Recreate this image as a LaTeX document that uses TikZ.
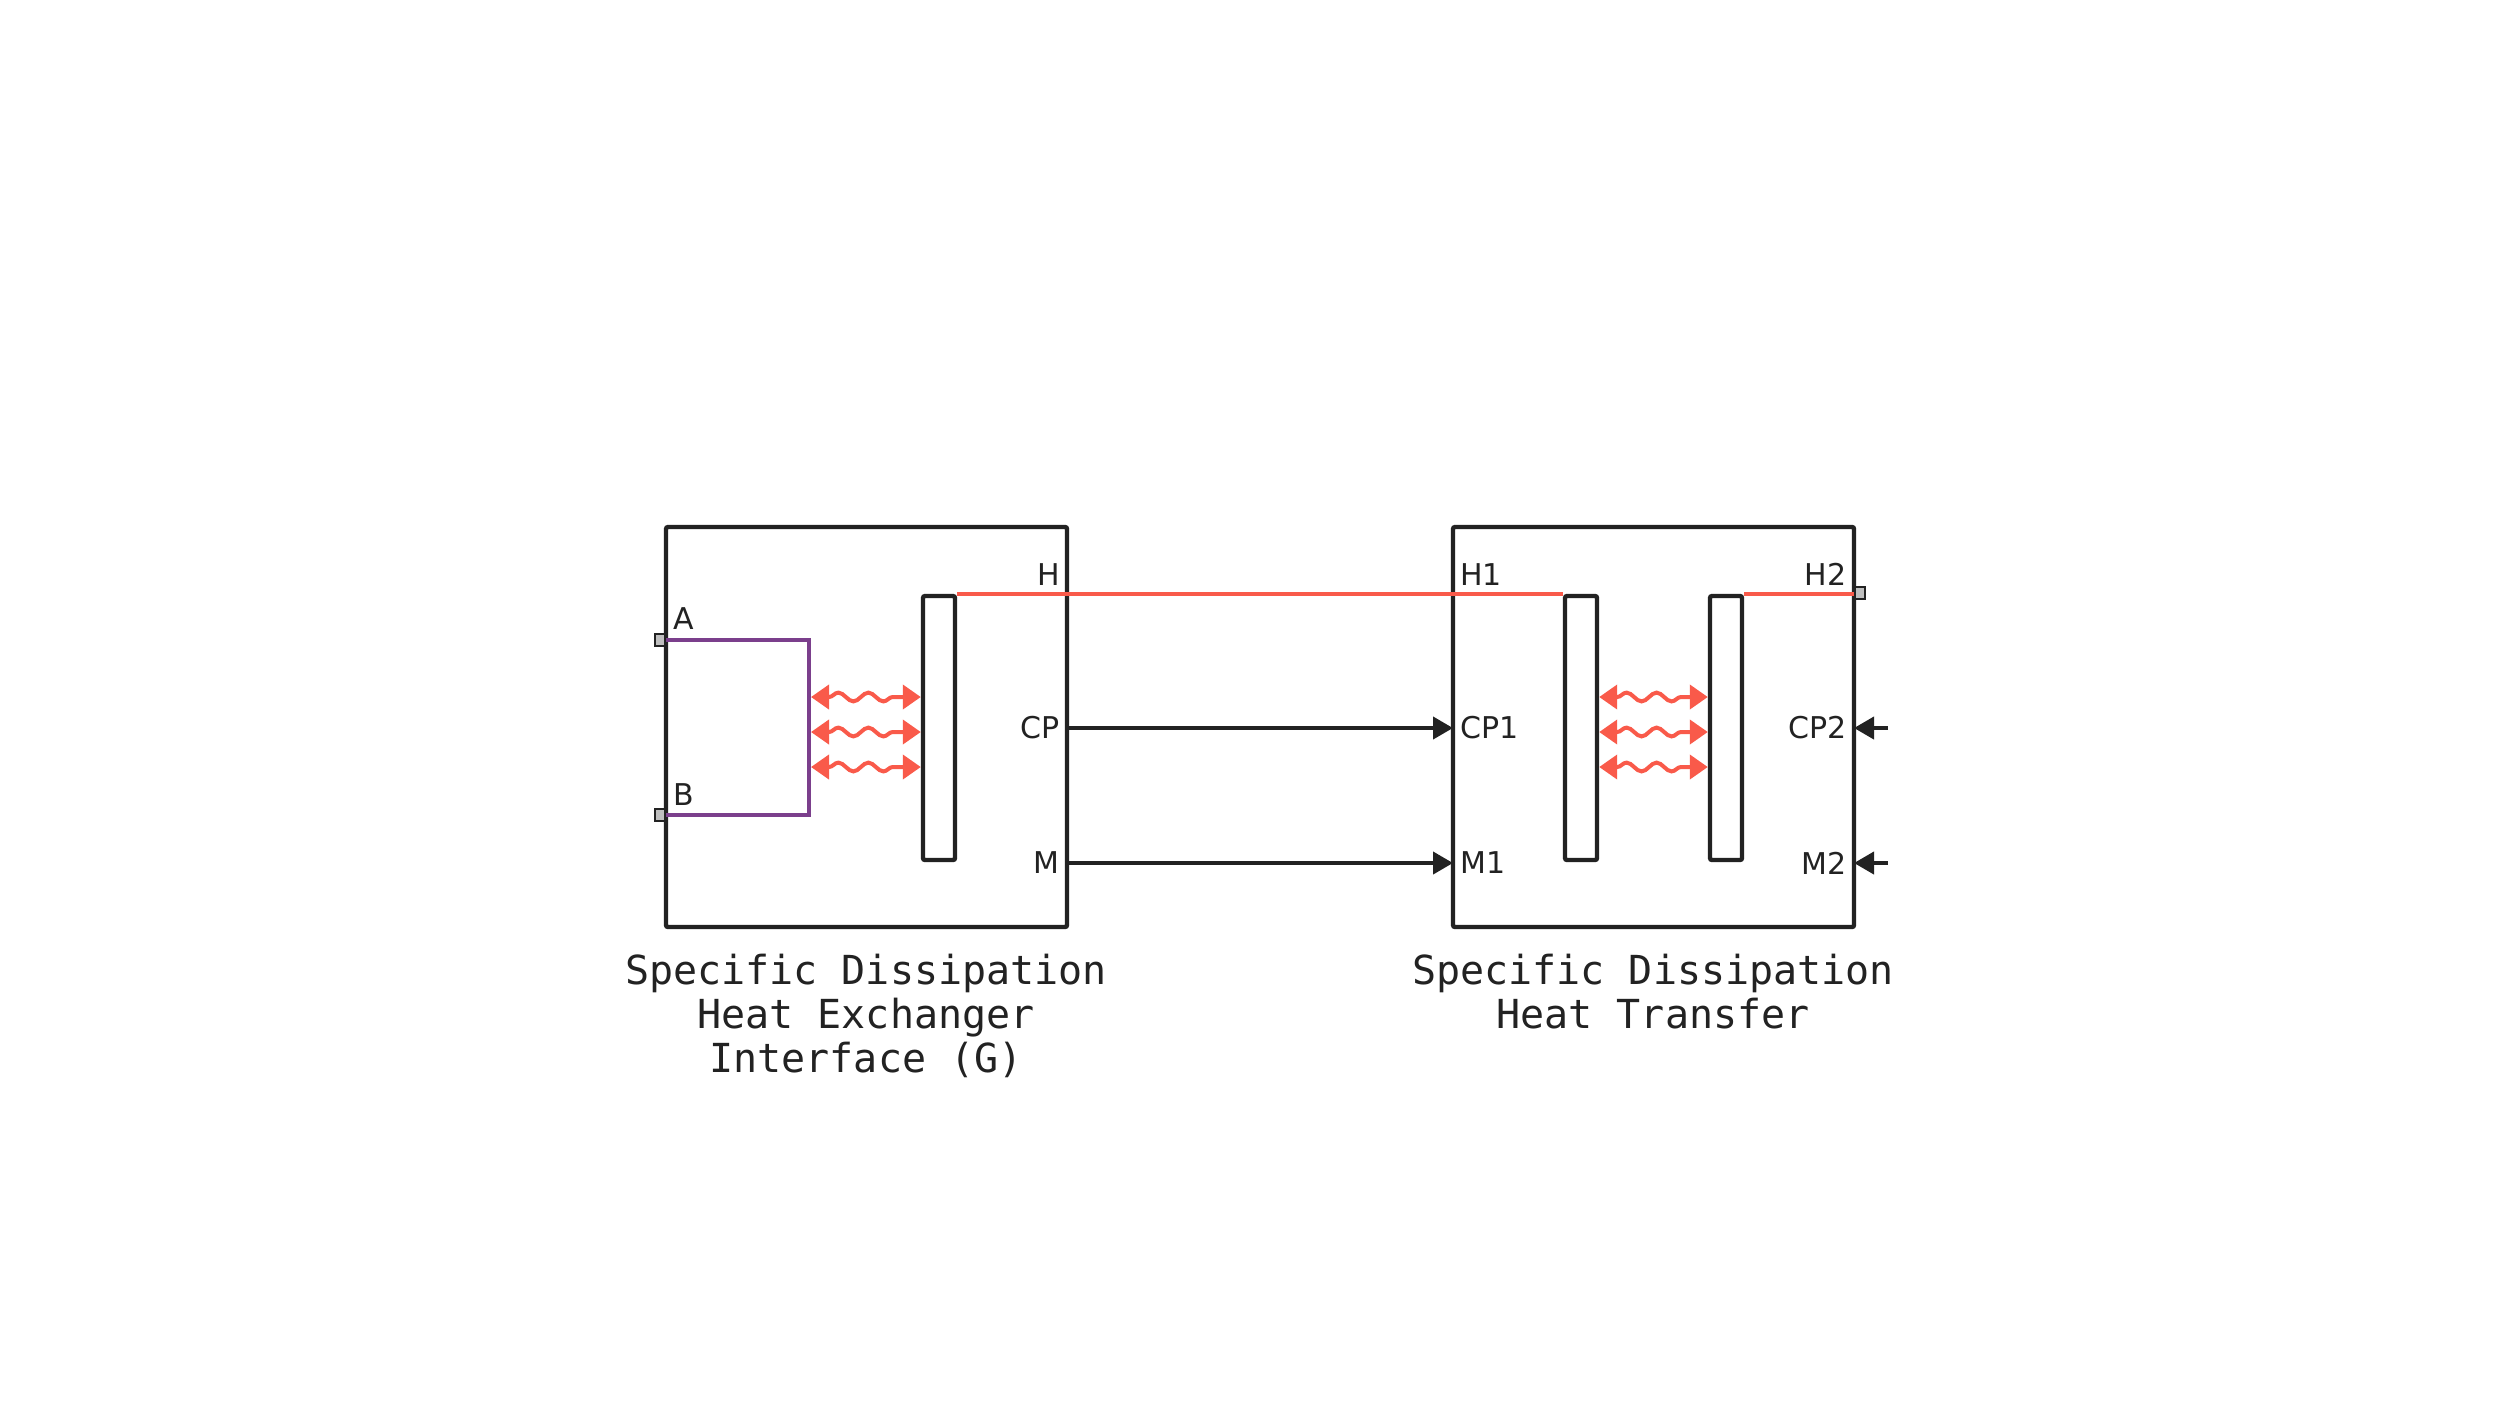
\documentclass[tikz,border=0pt]{standalone}
\usepackage{fontspec}
\setmainfont{DejaVu Sans}
\setmonofont{DejaVu Sans Mono}
\usetikzlibrary{arrows.meta,positioning,decorations.pathmorphing}
\definecolor{heat}{HTML}{F95A4A}
\definecolor{elec}{HTML}{7B3F8C}
\definecolor{ink}{HTML}{222222}
\tikzset{
  block/.style={draw=ink,line width=2.2pt,rounded corners=1pt},
  plate/.style={draw=ink,line width=2.2pt,rounded corners=1pt},
  port/.style={draw=ink,fill=gray!50,line width=1pt,minimum width=5pt,minimum height=6pt,inner sep=0},
  lbl/.style={font=\fontsize{15}{15}\selectfont,text=ink,inner sep=1pt},
  caption/.style={font=\ttfamily\fontsize{20}{22}\selectfont,text=ink,align=center},
  hwire/.style={heat,line width=2pt},
  sig/.style={ink,line width=2pt,-{Triangle[length=10pt,width=11pt]}},
  wave/.style={heat,line width=2pt,{Triangle[length=9pt,width=12pt]}-{Triangle[length=9pt,width=12pt]},
    decorate,decoration={snake,amplitude=2.2pt,segment length=15pt,pre length=9pt,post length=9pt}}
}
\begin{document}
\begin{tikzpicture}[x=0.5pt,y=-0.5pt]
    \useasboundingbox (0,0) rectangle (2520,1426);
    % left block
    \draw[block] (666,527) rectangle (1067,927);
    \node(p)[plate,minimum width=16pt,minimum height=132pt,inner sep=0] at (939,728) {};
    \node(pa)[port] at (660,640) {};
    \node(pb)[port] at (660,815) {};
    \coordinate(h) at (1067,594);
    \coordinate(cp) at (1067,728);
    \coordinate(m) at (1067,863);
    \draw[elec,line width=2pt] (pa.east) -- (809,640) -- (809,815) -- (pb.east);
    \draw[hwire] (p.north east) -- ++(112,0);
    \foreach \y in {697,732,767}
        \draw[wave] (811,\y) -- (p.west |- 0,\y);
    \node[lbl,anchor=south east] at (1062,588) {H};
    \node[lbl,anchor=south west] at (671,632) {A};
    \node[lbl,anchor=south west] at (671,808) {B};
    \node[lbl,anchor=east] at (1062,728) {CP};
    \node[lbl,anchor=east] at (1062,863) {M};
    \node[caption,anchor=north] at (866,947) {Specific Dissipation\\Heat Exchanger\\Interface (G)};
    % right block
    \draw[block] (1453,527) rectangle (1854,927);
    \node(q1)[plate,minimum width=16pt,minimum height=132pt,inner sep=0] at (1581,728) {};
    \node(q2)[plate,minimum width=16pt,minimum height=132pt,inner sep=0] at (1726,728) {};
    \node(ph2)[port] at (1860,593) {};
    \coordinate(h1) at (1453,594);
    \coordinate(cp1) at (1453,728);
    \coordinate(m1) at (1453,863);
    \coordinate(cp2) at (1854,728);
    \coordinate(m2) at (1854,863);
    \draw[hwire] (h1 |- q1.north) -- (q1.north west);
    \draw[hwire] (q2.north east) -- (ph2.west |- q2.north);
    \foreach \y in {697,732,767}
        \draw[wave] (q1.east |- 0,\y) -- (q2.west |- 0,\y);
    \node[lbl,anchor=south west] at (1458,588) {H1};
    \node[lbl,anchor=south east] at (1849,588) {H2};
    \node[lbl,anchor=west] at (1458,728) {CP1};
    \node[lbl,anchor=east] at (1849,728) {CP2};
    \node[lbl,anchor=west] at (1458,863) {M1};
    \node[lbl,anchor=east] at (1849,863) {M2};
    \node[caption,anchor=north] at (1653,947) {Specific Dissipation\\Heat Transfer};
    % connections
    \draw[hwire] (h) -- (h1);
    \draw[sig] (cp) -- (cp1);
    \draw[sig] (m) -- (m1);
    \draw[sig] (1888,728) -- (cp2);
    \draw[sig] (1888,863) -- (m2);
\end{tikzpicture}
\end{document}
